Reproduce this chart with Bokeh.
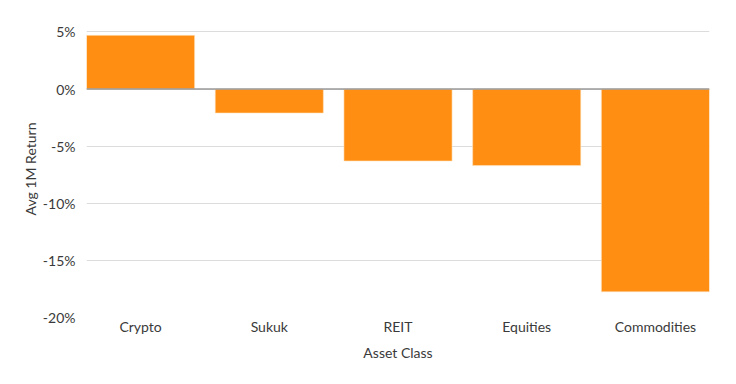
from bokeh.plotting import figure
from bokeh.models import Range1d, FixedTicker, PrintfTickFormatter, Span, ColumnDataSource
from bokeh.embed import file_html
from bokeh.resources import INLINE

categories = ["Crypto", "Sukuk", "REIT", "Equities", "Commodities"]
avg_return = [4.7, -2.1, -6.3, -6.7, -17.75]
y_ticks = [-20, -15, -10, -5, 0, 5]

xs = list(range(len(categories)))
src = ColumnDataSource(dict(x=xs, top=avg_return))

BAR_W = 0.84
p = figure(width=728, height=372, output_backend="svg", toolbar_location=None,
           x_range=Range1d(-BAR_W / 2, len(categories) - 1 + BAR_W / 2),
           y_range=Range1d(-20, 6),
           min_border_left=86, min_border_right=19, min_border_top=20, min_border_bottom=55)

p.vbar(x="x", top="top", bottom=0, width=BAR_W, source=src,
       fill_color="#FF8E12", line_color="#FFE2C0", line_width=0.6)

p.add_layout(Span(location=0, dimension="width", line_color="#9a9a9a", line_width=1.5))

p.outline_line_color = None
p.background_fill_color = "white"
p.border_fill_color = "white"

p.xgrid.grid_line_color = None
p.ygrid.grid_line_color = "#dcdcdc"
p.ygrid.grid_line_width = 1.2

p.yaxis.ticker = FixedTicker(ticks=y_ticks)
p.yaxis.formatter = PrintfTickFormatter(format="%d%%")
p.xaxis.ticker = FixedTicker(ticks=xs)
p.xaxis.major_label_overrides = {i: c for i, c in enumerate(categories)}

for ax in (p.xaxis, p.yaxis):
    ax.axis_line_color = None
    ax.major_tick_line_color = None
    ax.minor_tick_line_color = None
    ax.major_tick_out = 0
    ax.major_tick_in = 0
    ax.minor_tick_out = 0
    ax.major_label_text_font = "Lato"
    ax.major_label_text_font_size = "14px"
    ax.major_label_text_color = "#3a3a3a"
    ax.axis_label_text_font = "Lato"
    ax.axis_label_text_font_size = "14px"
    ax.axis_label_text_font_style = "normal"
    ax.axis_label_text_color = "#3a3a3a"

p.xaxis.axis_label = "Asset Class"
p.yaxis.axis_label = "Avg 1M Return"
p.xaxis.major_label_standoff = 0
p.yaxis.major_label_standoff = 11
p.xaxis.axis_label_standoff = 6
p.yaxis.axis_label_standoff = 1

open("out.html", "w").write(file_html(p, INLINE))
